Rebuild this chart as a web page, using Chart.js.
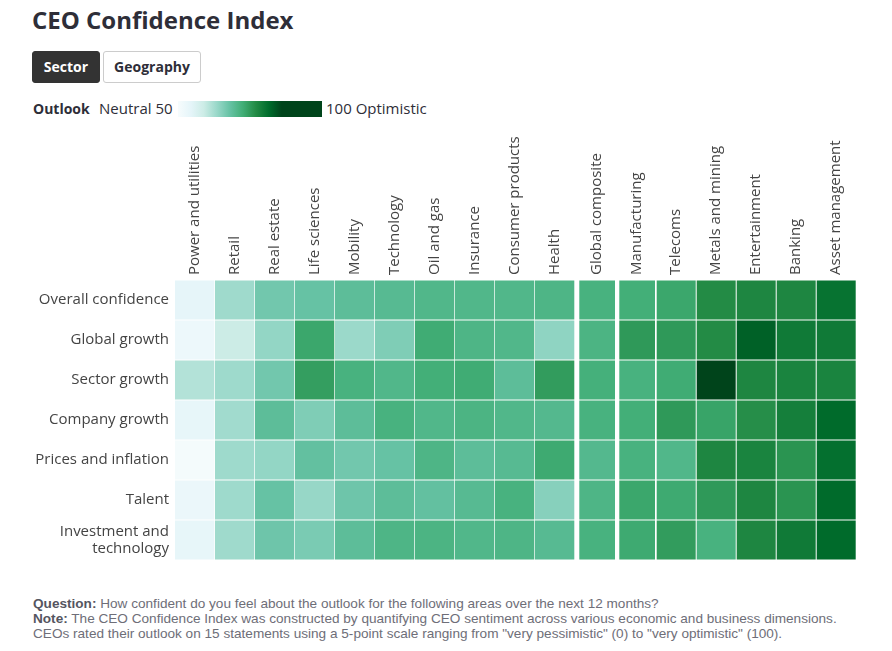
<!DOCTYPE html>
<html>
<head>
<meta charset="utf-8">
<script src="https://cdn.jsdelivr.net/npm/chart.js@4.4.1/dist/chart.umd.min.js"></script>
<style>
  html, body { margin:0; padding:0; background:#fff; }
  body { width:892px; height:651px; position:relative; overflow:hidden; font-family:'Open Sans', sans-serif; color:#2e2e38; }
  #title { position:absolute; left:32px; top:3px; font-size:24px; font-weight:700; letter-spacing:0; color:#2e2e38; }
  .btn { position:absolute; top:51px; height:32px; box-sizing:border-box; font-size:14px; font-weight:700; line-height:30px; text-align:center; border-radius:3px; }
  #b1 { left:32px; width:68px; background:#333333; color:#fff; border:1px solid #333; }
  #b2 { left:103px; width:98px; background:#fff; color:#2e2e38; border:1px solid #cccccc; }
  #legend { position:absolute; left:33px; top:98px; height:20px; font-size:15px; line-height:20px; color:#2e2e38; white-space:nowrap; }
  #legend b { font-weight:700; font-size:14px; }
  #grad { position:absolute; left:178px; top:101px; width:144px; height:16px;
    background:linear-gradient(to right,#f7fcfd 0%,#e5f5f9 9%,#ccece6 18%,#99d8c9 27%,#66c2a4 36%,#41ae76 45%,#238b45 54%,#006d2c 63%,#00441b 72%,#00441b 100%); }
  #l1 { position:absolute; left:0; top:0; }
  #l2 { position:absolute; left:66px; top:0; }
  #l3 { position:absolute; left:293px; top:0; }
  #wrap { position:absolute; left:0; top:130px; width:892px; height:440px; }
  #notes { position:absolute; left:33px; top:596px; font-family:'Liberation Sans', sans-serif; font-size:13.6px; line-height:15px; color:#6e6e78; white-space:nowrap; }
  #notes b { color:#55555f; }
</style>
</head>
<body>
<div id="title">CEO Confidence Index</div>
<div class="btn" id="b1">Sector</div>
<div class="btn" id="b2">Geography</div>
<div id="legend"><span id="l1"><b>Outlook</b></span><span id="l2">Neutral 50</span><span id="l3">100 Optimistic</span></div>
<div id="grad"></div>
<div id="wrap"><canvas id="c" width="892" height="440"></canvas></div>
<div id="notes">
  <div><b>Question:</b> How confident do you feel about the outlook for the following areas over the next 12 months?</div>
  <div><b>Note:</b> The CEO Confidence Index was constructed by quantifying CEO sentiment across various economic and business dimensions.</div>
  <div>CEOs rated their outlook on 15 statements using a 5-point scale ranging from "very pessimistic" (0) to "very optimistic" (100).</div>
</div>
<script>
// ---- Data ----
const sectors = ['Power and utilities','Retail','Real estate','Life sciences','Mobility','Technology','Oil and gas','Insurance','Consumer products','Health','Global composite','Manufacturing','Telecoms','Metals and mining','Entertainment','Banking','Asset management'];
const rowLabels = ['Overall confidence','Global growth','Sector growth','Company growth','Prices and inflation','Talent',['Investment and','technology']];

const overallConfidence  = [54.3,63.0,66.9,68.0,69.1,69.8,70.5,70.5,70.5,70.9,71.6,72.3,73.4,77.0,77.7,77.7,80.6];
const globalGrowth       = [52.5,59.0,64.0,73.4,63.3,65.8,72.7,70.9,70.5,64.4,71.2,75.2,75.2,77.0,82.8,79.5,79.5];
const sectorGrowth       = [61.2,63.1,66.9,74.5,71.6,70.5,72.3,72.7,69.1,74.8,72.0,71.6,72.7,86.0,77.7,78.1,78.1];
const companyGrowth      = [54.0,62.8,69.1,65.8,69.1,71.6,70.5,71.2,70.5,70.2,71.6,72.3,75.2,73.8,76.6,78.8,81.7];
const pricesInflation    = [50.7,63.1,64.0,68.4,66.9,68.0,70.9,69.1,69.8,73.0,70.2,71.6,70.5,77.7,78.1,75.9,81.0];
const talent             = [52.9,63.1,68.0,63.7,67.3,69.1,68.4,69.8,71.6,65.1,70.9,73.4,73.0,75.2,77.7,75.9,81.7];
const investmentTech     = [54.0,63.0,67.3,66.2,69.1,70.9,71.2,70.5,70.9,69.8,71.6,73.0,74.8,71.6,77.7,79.5,81.7];

const rows = [overallConfidence, globalGrowth, sectorGrowth, companyGrowth, pricesInflation, talent, investmentTech];

// ---- Layout helpers (not data) ----
const GRID_W = 681;
function colExtent(i) {
  if (i <= 9) return [40 * i, 40 * i + 39.3];
  if (i === 10) return [404.3, 440];
  if (i === 11) return [444.3, 480];
  return [40 * i + 1.7, 40 * i + 40.7];
}
const stops = ['#f7fcfd','#e5f5f9','#ccece6','#99d8c9','#66c2a4','#41ae76','#238b45','#006d2c','#00441b'];
function hex(h){ return [parseInt(h.slice(1,3),16), parseInt(h.slice(3,5),16), parseInt(h.slice(5,7),16)]; }
function colorFor(v) {
  const t = Math.max(0, Math.min(1, (v - 50) / 36));
  const p = t * 8;
  const k = Math.min(7, Math.floor(p));
  const f = p - k;
  const a = hex(stops[k]), b = hex(stops[k + 1]);
  const c = a.map((x, j) => Math.round(x + (b[j] - x) * f));
  return 'rgb(' + c.join(',') + ')';
}

const colFontSize = 15;
const colLineH = colFontSize * 1.2;

new Chart(document.getElementById('c'), {
  type: 'bar',
  data: {
    datasets: rows.map((vals, r) => ({
      label: Array.isArray(rowLabels[r]) ? rowLabels[r].join(' ') : rowLabels[r],
      data: vals.map((v, i) => ({ y: r, x: colExtent(i) })),
      backgroundColor: vals.map(colorFor),
      borderWidth: 0,
      grouped: false,
      barPercentage: 0.975,
      categoryPercentage: 1
    }))
  },
  options: {
    indexAxis: 'y',
    responsive: false,
    animation: false,
    layout: { padding: { left: 0, right: 36, top: 0, bottom: 10 } },
    plugins: { legend: { display: false }, tooltip: { enabled: false } },
    scales: {
      x: {
        type: 'linear', position: 'top', min: 0, max: GRID_W, offset: false,
        grid: { display: false, drawTicks: false }, border: { display: false },
        afterBuildTicks: a => { a.ticks = sectors.map((s, i) => ({ value: (colExtent(i)[0] + colExtent(i)[1]) / 2 })); },
        afterFit: a => { a.height = 150; a.paddingLeft = 0; a.paddingRight = 0; a.paddingTop = 0; a.paddingBottom = 0; },
        ticks: { autoSkip: false, minRotation: 90, maxRotation: 90, padding: 5, labelOffset: colLineH, color: '#444',
                 font: { family: "'Open Sans', sans-serif", size: colFontSize },
                 callback: (v, i) => sectors[i] }
      },
      y: {
        type: 'linear', reverse: true, min: -0.5, max: 6.5, offset: false,
        grid: { display: false, drawTicks: false, offset: false }, border: { display: false },
        afterBuildTicks: a => { a.ticks = rowLabels.map((s, i) => ({ value: i })); },
        afterFit: a => { a.width = 175; a.paddingLeft = 0; a.paddingRight = 0; a.paddingTop = 0; a.paddingBottom = 0; },
        ticks: { autoSkip: false, padding: 6, color: '#444', font: { family: "'Open Sans', sans-serif", size: 15, lineHeight: 1.1 },
                 callback: (v, i) => rowLabels[i] }
      }
    }
  }
});
</script>
</body>
</html>
